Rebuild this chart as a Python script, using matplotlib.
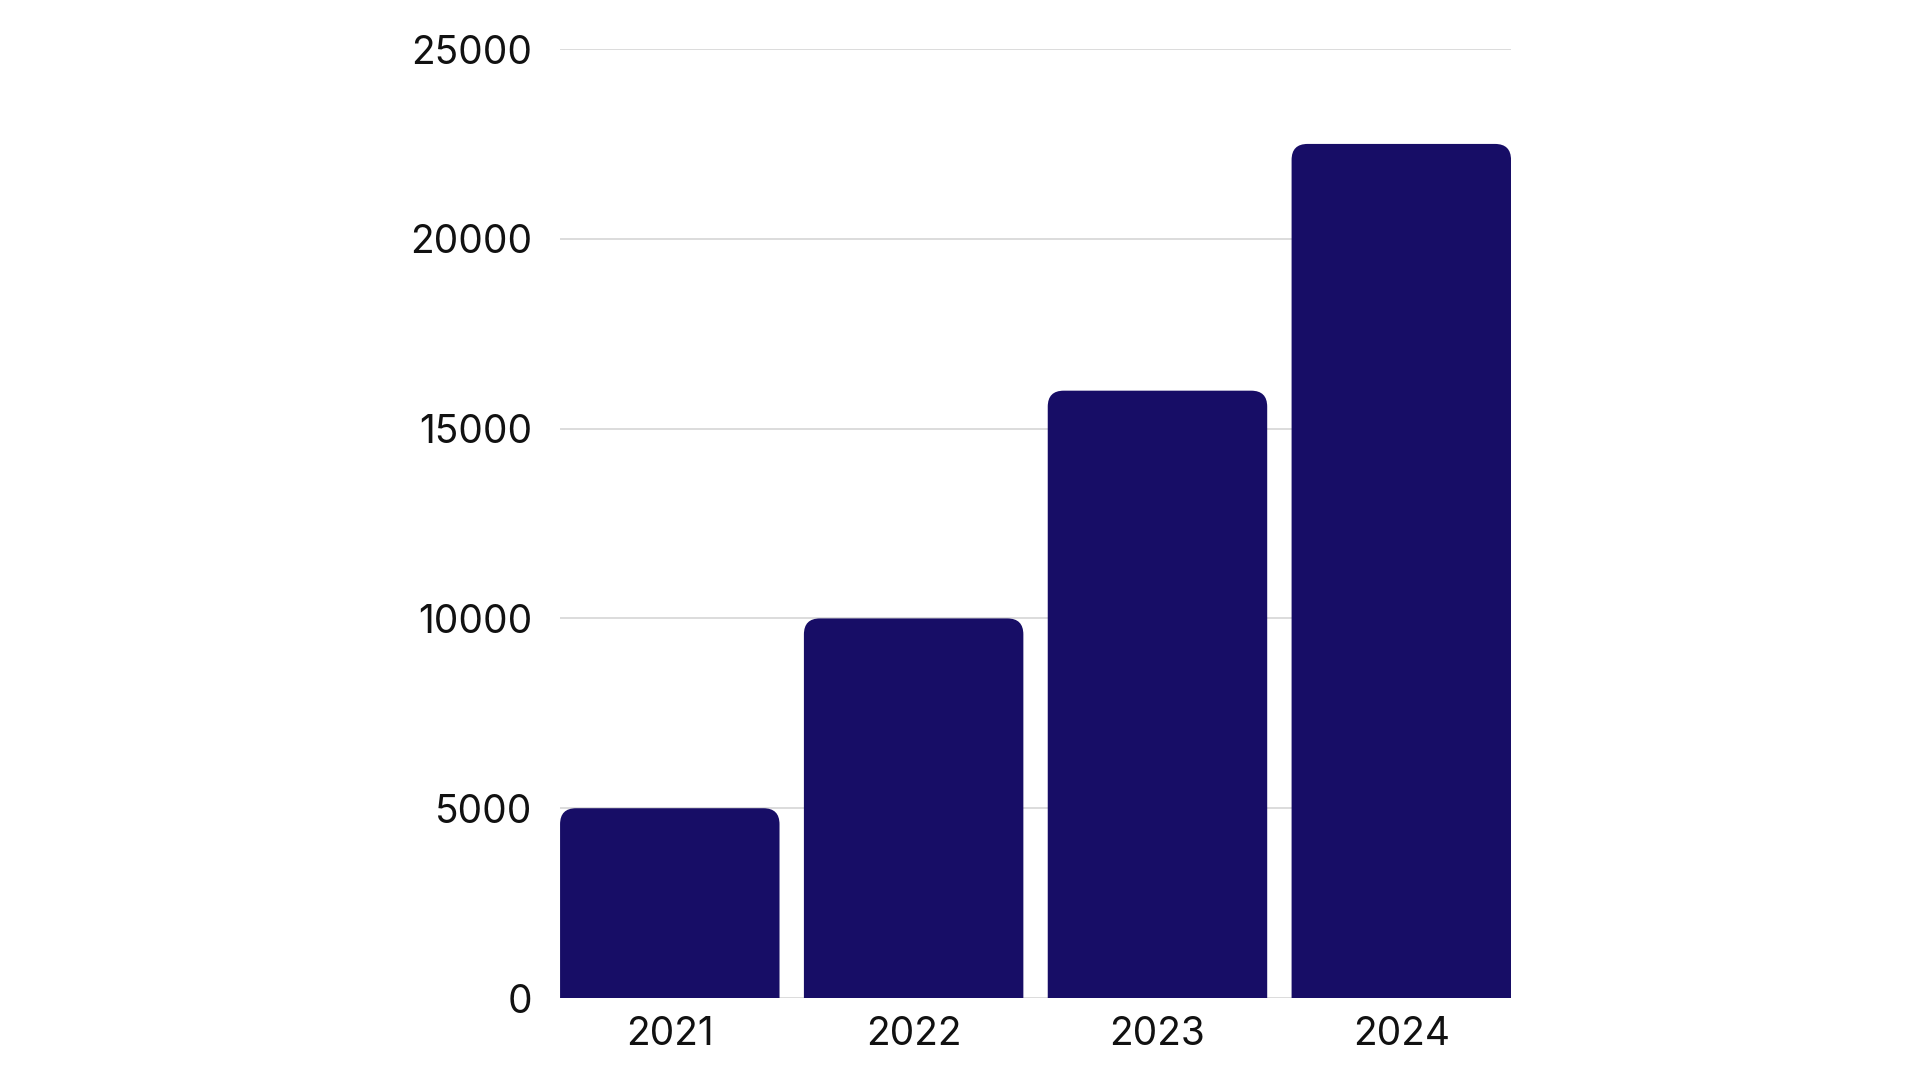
import matplotlib.pyplot as plt
from matplotlib.patches import PathPatch
from matplotlib.path import Path

years = ['2021', '2022', '2023', '2024']
values = [5000, 10000, 16000, 22500]
yticks = [0, 5000, 10000, 15000, 20000, 25000]

bar_color = '#170d66'
grid_color = '#d6d6d6'

plt.rcParams['font.family'] = ['Inter', 'DejaVu Sans']

fig = plt.figure(figsize=(19.2, 10.8), dpi=100)
ax = fig.add_axes([0.2917, 0.0759, 0.7870 - 0.2917, 0.9546 - 0.0759])

x = list(range(len(years)))
width = 0.9
ax.set_xlim(-0.45, len(years) - 0.55)
ax.set_ylim(0, 25000)

# top corners rounded, bottom square; radius given in pixels
fig.canvas.draw()
bb = ax.get_window_extent()
xpp = (ax.get_xlim()[1] - ax.get_xlim()[0]) / bb.width
ypp = (ax.get_ylim()[1] - ax.get_ylim()[0]) / bb.height
rx, ry = 16 * xpp, 16 * ypp
for xi, v in zip(x, values):
    l, r = xi - width / 2, xi + width / 2
    verts = [(l, 0), (l, v - ry), (l, v), (l + rx, v),
             (r - rx, v), (r, v), (r, v - ry), (r, 0), (l, 0)]
    codes = [Path.MOVETO, Path.LINETO, Path.CURVE3, Path.CURVE3,
             Path.LINETO, Path.CURVE3, Path.CURVE3, Path.LINETO, Path.CLOSEPOLY]
    ax.add_patch(PathPatch(Path(verts, codes), fc=bar_color, ec='none', zorder=3))

ax.set_yticks(yticks)
ax.set_xticks(x)
ax.set_xticklabels(years)
ax.yaxis.grid(True, color=grid_color, linewidth=1.2, zorder=0)
ax.set_axisbelow(True)
for s in ax.spines.values():
    s.set_visible(False)
ax.tick_params(axis='both', length=0, labelsize=28, colors='#111111')
ax.tick_params(axis='y', pad=20)
ax.tick_params(axis='x', pad=13)

fig.savefig('out.png', dpi=100, facecolor='white')
